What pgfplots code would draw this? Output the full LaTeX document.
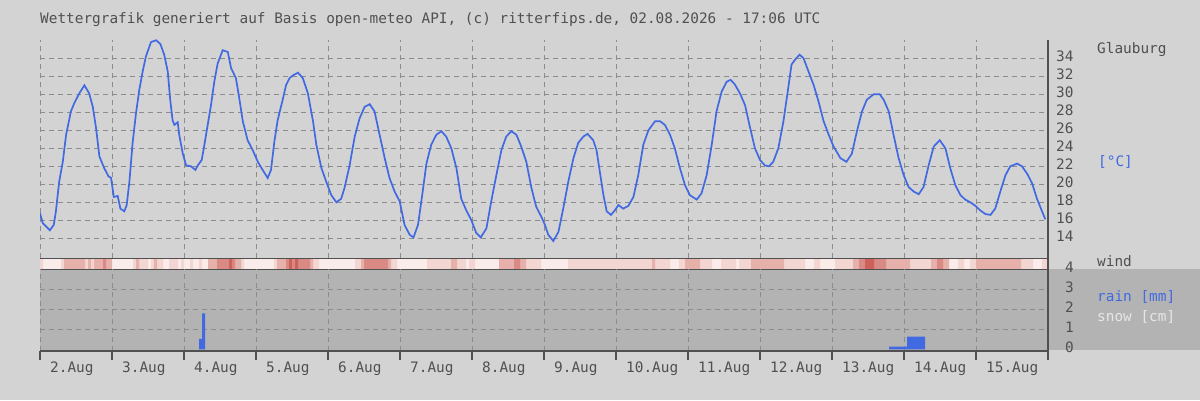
\documentclass[border=0pt]{standalone}
\usepackage{fontspec}
\setmainfont{DejaVu Sans Mono}
\usepackage{pgfplots}
\pgfplotsset{compat=1.18}
\definecolor{bg}{HTML}{D3D3D3}
\definecolor{rainbg}{HTML}{B3B3B3}
\definecolor{txt}{HTML}{505050}
\definecolor{gridc}{HTML}{8C8C8C}
\definecolor{tblue}{HTML}{4169E1}
\definecolor{snowc}{HTML}{E6E6E6}
\definecolor{w0}{HTML}{FAECEA}
\definecolor{w1}{HTML}{F3D5D2}
\definecolor{w2}{HTML}{E6B0AB}
\definecolor{w3}{HTML}{D98A84}
\definecolor{w4}{HTML}{CC6259}
\pgfplotsset{
  base/.style={
    scale only axis, width=1008bp, xmin=0, xmax=336,
    /pgf/number format/assume math mode=true,
    tick label style={text=txt, font=\fontsize{14.4bp}{17bp}\selectfont},
    grid style={gridc, line width=1bp, dash pattern=on 5bp off 4bp},
    axis line style={draw=none},
    major tick length=0pt,
  }
}
\begin{document}
\begin{tikzpicture}[x=1bp,y=1bp]
\fill[bg] (0,0) rectangle (1200,400);
\fill[rainbg] (40,50) rectangle (1200,130.7);

% temperature
\begin{axis}[base, at={(40bp,141.7bp)}, anchor=south west, height=218.3bp,
  ymin=11.78, ymax=36.03,
  xtick={0,24,...,312}, xticklabels={},
  ytick={14,16,...,34}, yticklabel pos=right, ytick style={draw=none}, xtick style={draw=none},
  yticklabel style={anchor=west, inner sep=0pt, xshift=8bp, yshift=2.5bp},
  xmajorgrids, ymajorgrids]
\addplot[tblue, line width=1.7bp] table {
0 16.8
0.9 15.7
3.3 14.9
4.6 15.5
5.3 17.0
6.4 20.3
7.6 22.5
8.7 25.5
10.3 28.1
11.4 29.0
13.1 30.1
14.8 31.0
16.4 30.1
17.6 28.6
18.7 26.2
19.8 23.1
21.4 21.8
22.8 20.9
23.7 20.7
24.6 18.6
25.9 18.7
26.8 17.3
28.1 17.0
28.9 17.7
29.8 20.3
30.9 24.7
32 27.9
33.1 30.5
34.2 32.5
35.3 34.2
37 35.8
38.7 36.0
40.1 35.6
41.4 34.4
42.6 32.5
43.4 29.4
44.2 27.1
44.8 26.6
45.9 26.9
46.4 25.5
47.6 23.4
48.7 22.1
50.3 22.0
51.8 21.6
52.6 22.1
53.9 22.7
54.8 24.4
55.9 26.6
57 28.8
58.1 31.4
59.2 33.4
60.9 34.9
62.6 34.7
63.7 32.9
65.3 31.8
66.4 29.6
67.6 27.0
69.2 24.9
70.9 23.8
72.6 22.5
74.2 21.6
75.9 20.7
77 21.6
78.1 24.7
79.2 27.1
80.9 29.4
82 31.0
83.2 31.8
84.3 32.1
86 32.4
87.6 31.8
89.3 30.1
91 27.0
92.1 24.4
93.8 21.8
95.4 20.3
97.1 18.8
98.8 18.0
100.4 18.4
101.5 19.6
103.2 22.1
104.9 25.3
106.5 27.3
108.2 28.6
109.9 28.9
111.5 28.1
113.2 25.5
114.9 22.9
116.5 20.7
118.2 19.2
119.9 18.1
121.5 15.5
123.2 14.4
124.5 14.1
126 15.5
127.4 18.8
128.8 22.3
130.4 24.4
132.1 25.5
133.8 25.9
135.4 25.3
137.1 24.0
138.8 21.8
140.4 18.4
142.1 17.1
143.8 16.0
145.4 14.6
146.9 14.1
148.8 15.1
150.4 18.1
152.1 21.0
153.8 23.8
155.4 25.3
157.1 25.9
158.8 25.5
160.4 24.2
162.1 22.5
163.8 19.6
165.4 17.5
167.1 16.4
168.3 15.5
169.4 14.4
171.1 13.7
172.8 14.7
174.4 17.3
176.1 20.3
177.8 22.9
179.4 24.6
181.1 25.3
182.5 25.6
184.4 24.9
185.5 23.8
186.6 21.4
187.8 18.8
188.9 17.0
190.3 16.6
191.6 17.1
192.8 17.7
194.4 17.3
196.1 17.6
197.8 18.6
199.4 21.0
201.1 24.4
202.8 26.0
205 27.0
206.7 27.0
208.3 26.6
210 25.5
211.6 24.0
213.3 21.8
215 19.9
216.6 18.8
218.9 18.3
220.5 19.0
222.2 21.0
223.9 24.4
225.5 28.1
227.2 30.3
228.9 31.4
230.2 31.6
231.6 31.1
233.3 30.1
235 28.8
236.6 26.4
238.3 24.0
240 22.7
241.6 22.1
243 22.0
244.4 22.5
246.1 24.0
247.8 27.0
249.4 30.7
250.5 33.3
251.8 33.9
253.2 34.4
254.5 34.0
256.2 32.5
257.9 31.0
259.5 29.2
261.2 27.0
262.9 25.5
264.5 24.2
266.8 22.9
268.8 22.5
270.6 23.4
272.3 25.9
274 28.1
275.6 29.4
277.9 30.0
279.9 30.0
281.2 29.4
282.9 28.1
284.5 25.5
286.2 22.9
287.9 21.0
289.5 19.7
291.2 19.2
292.9 18.9
294.5 19.7
296.2 22.1
297.9 24.2
299.9 24.9
301.8 24.0
303.4 21.8
305.1 19.9
306.8 18.8
308.4 18.3
310.1 18.0
311.8 17.6
313.4 17.1
315.1 16.7
316.8 16.6
318.4 17.3
320.1 19.2
321.8 21.0
323.4 22.0
325.7 22.3
327.3 22.0
329 21.2
330.7 20.1
332.3 18.4
334 17.0
335.1 16.1
};
\end{axis}

% wind strip
\begin{axis}[base, at={(40bp,130.7bp)}, anchor=south west, height=11bp,
  ymin=0, ymax=1, xtick=\empty, ytick=\empty, clip=false,
  axis background/.style={fill=w0}]
\addplot[const plot, fill=w1, draw=none] coordinates {(0,1)(1,0)(7,1)(8,0)(15,1)(16,0)(17,1)(18,0)(31,1)(32,0)(33,1)(36,0)(37,1)(38,0)(39,1)(41,0)(43,1)(46,0)(47,1)(48,0)(50,1)(51,0)(53,1)(54,0)(67,1)(68,0)(78,1)(79,0)(91,1)(93,0)(105,1)(107,0)(117,1)(119,0)(129,1)(137,0)(139,1)(142,0)(143,1)(145,0)(162,1)(167,0)(176,1)(204,0)(205,1)(210,0)(213,1)(215,0)(220,1)(224,0)(227,1)(232,0)(233,1)(237,0)(248,1)(255,0)(258,1)(260,0)(265,1)(271,0)(290,1)(297,0)(306,1)(308,0)(310,1)(312,0)(327,1)(331,0)(334,1)(336,1)} \closedcycle;
\addplot[const plot, fill=w2, draw=none] coordinates {(0,0)(8,1)(15,0)(16,1)(17,0)(18,1)(21,0)(22,1)(24,0)(32,1)(33,0)(38,1)(39,0)(56,1)(59,0)(65,1)(67,0)(79,1)(82,0)(90,1)(91,0)(107,1)(108,0)(116,1)(117,0)(137,1)(139,0)(153,1)(158,0)(160,1)(162,0)(204,1)(205,0)(215,1)(220,0)(237,1)(248,0)(271,1)(273,0)(282,1)(290,0)(297,1)(299,0)(301,1)(303,0)(312,1)(327,0)(336,0)} \closedcycle;
\addplot[const plot, fill=w3, draw=none] coordinates {(0,0)(21,1)(22,0)(59,1)(63,0)(64,1)(65,0)(82,1)(83,0)(84,1)(85,0)(86,1)(90,0)(108,1)(116,0)(158,1)(160,0)(273,1)(275,0)(278,1)(282,0)(299,1)(301,0)(336,0)} \closedcycle;
\addplot[const plot, fill=w4, draw=none] coordinates {(0,0)(63,1)(64,0)(83,1)(84,0)(85,1)(86,0)(275,1)(278,0)(336,0)} \closedcycle;
\draw[txt, line width=1.2bp] (rel axis cs:0,0) -- (rel axis cs:1,0);
\draw[txt, line width=1.2bp] (rel axis cs:0,1) -- (rel axis cs:1,1);
\end{axis}

% rain
\begin{axis}[base, at={(40bp,49bp)}, anchor=south west, height=81.7bp,
  ymin=-0.085, ymax=4, clip=false,
  xtick={0,24,...,336},
  xticklabels={2.Aug,3.Aug,4.Aug,5.Aug,6.Aug,7.Aug,8.Aug,9.Aug,10.Aug,11.Aug,12.Aug,13.Aug,14.Aug,15.Aug,{}},
  xtick pos=left, tick align=outside, major tick length=9bp,
  xtick style={txt, line width=1.2bp},
  xticklabel style={anchor=north west, inner sep=0pt, xshift=10bp, yshift=-2bp},
  ytick={1,2,3}, extra y ticks={0,4}, extra y tick style={grid=none},
  yticklabel pos=right, ytick pos=right, ytick style={draw=none},
  yticklabel style={anchor=west, inner sep=0pt, xshift=8bp, yshift=2.5bp},
  xmajorgrids, ymajorgrids]
\addplot[ybar interval, fill=tblue, draw=none] coordinates {(53,0.52)(54,1.8)(55,0)};
\addplot[ybar interval, fill=tblue, draw=none] coordinates {(283,0.13)(289,0.63)(295,0)};
\draw[txt, line width=1.2bp] (rel axis cs:0,0) -- (rel axis cs:1,0);
\end{axis}

\draw[txt, line width=1.2bp] (1048,360) -- (1048,40);

\begin{scope}[every node/.style={inner sep=0pt, anchor=base west, font=\fontsize{14.4bp}{17bp}\selectfont}]
\node[text=txt] at (40,376.7) {Wettergrafik generiert auf Basis open-meteo API, (c) ritterfips.de, 02.08.2026 - 17:06 UTC};
\node[text=txt] at (1097,346.7) {Glauburg};
\node[text=tblue] at (1098,233.5) {[°C]};
\node[text=txt] at (1097,134) {wind};
\node[text=tblue] at (1097,98.3) {rain [mm]};
\node[text=snowc] at (1097,78.3) {snow [cm]};
\end{scope}
\pgfresetboundingbox
\useasboundingbox (0,0) rectangle (1200,400);
\end{tikzpicture}
\end{document}
